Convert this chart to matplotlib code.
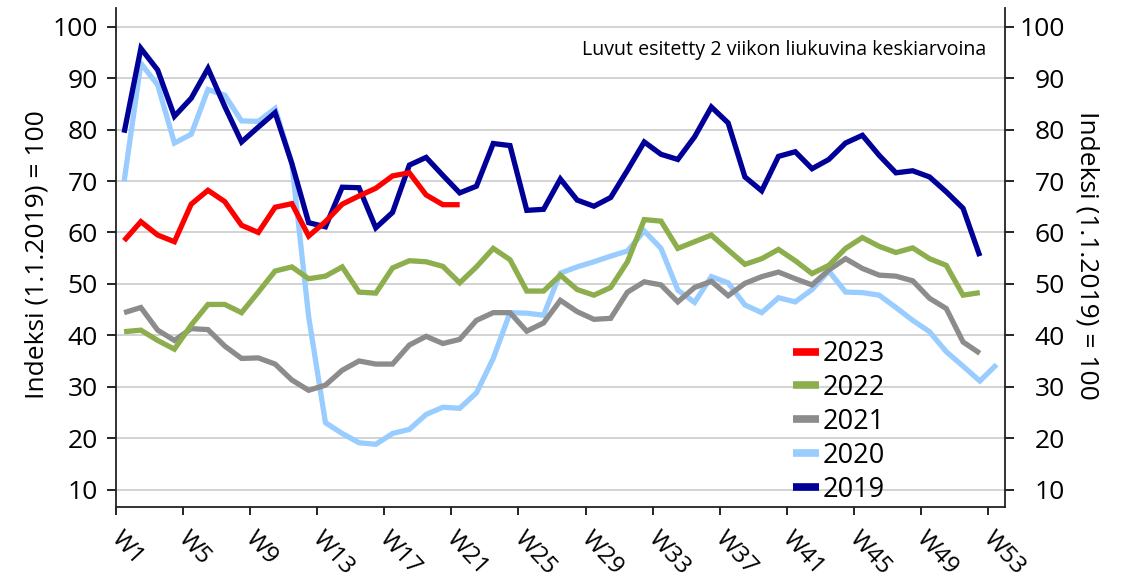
import numpy as np
import matplotlib
matplotlib.use("Agg")
import matplotlib.pyplot as plt
import matplotlib.transforms as mtransforms

plt.rcParams['font.family'] = ['Open Sans', 'DejaVu Sans']

weeks = np.arange(1, 54)

y2019 = [79.4, 95.8, 91.6, 82.6, 86.1, 91.9, 84.5, 77.6, 80.5, 83.3, 73.4, 61.9, 61.1,
         68.8, 68.7, 60.9, 63.9, 73.1, 74.6, 71.1, 67.7, 69.0, 77.3, 76.9, 64.3, 64.5,
         70.4, 66.3, 65.1, 66.8, 72.1, 77.6, 75.2, 74.2, 78.6, 84.4, 81.3, 70.8, 68.1,
         74.8, 75.7, 72.4, 74.2, 77.4, 78.9, 75.0, 71.6, 72.0, 70.8, 67.9, 64.7, 55.4]
y2020 = [69.9, 92.9, 88.7, 77.4, 79.1, 87.8, 86.7, 81.7, 81.6, 84.1, 73.4, 43.6, 23.0,
         20.9, 19.1, 18.8, 20.9, 21.7, 24.6, 26.0, 25.8, 28.8, 35.5, 44.4, 44.3, 43.9,
         52.1, 53.3, 54.3, 55.4, 56.4, 60.3, 56.9, 48.8, 46.4, 51.4, 50.2, 45.9, 44.4,
         47.3, 46.5, 48.9, 52.5, 48.4, 48.3, 47.8, 45.4, 42.9, 40.7, 36.8, 34.0, 31.1, 34.3]
y2021 = [44.4, 45.4, 41.0, 39.0, 41.3, 41.1, 37.9, 35.5, 35.6, 34.4, 31.3, 29.3, 30.3,
         33.2, 35.0, 34.4, 34.4, 38.1, 39.8, 38.4, 39.2, 42.9, 44.4, 44.4, 40.8, 42.4,
         46.8, 44.6, 43.1, 43.3, 48.4, 50.4, 49.8, 46.5, 49.3, 50.5, 47.7, 50.1, 51.4,
         52.3, 51.0, 49.8, 52.7, 54.9, 53.0, 51.7, 51.5, 50.6, 47.2, 45.2, 38.7, 36.5]
y2022 = [40.7, 41.0, 39.0, 37.3, 42.0, 46.0, 46.0, 44.4, 48.4, 52.5, 53.3, 51.0, 51.5,
         53.3, 48.4, 48.2, 53.1, 54.5, 54.3, 53.4, 50.2, 53.3, 56.9, 54.7, 48.6, 48.6,
         51.7, 48.9, 47.8, 49.3, 54.3, 62.5, 62.2, 56.9, 58.2, 59.5, 56.6, 53.8, 54.9,
         56.7, 54.5, 52.0, 53.6, 56.9, 59.0, 57.3, 56.1, 57.0, 54.9, 53.6, 47.8, 48.3]
y2023 = [58.4, 62.1, 59.5, 58.2, 65.5, 68.2, 66.0, 61.4, 60.0, 64.9, 65.6, 59.3, 62.1,
         65.5, 67.1, 68.6, 71.0, 71.6, 67.3, 65.4, 65.4]

series_labels = ['2023', '2022', '2021', '2020', '2019']
series_values = [y2023, y2022, y2021, y2020, y2019]
series_colors = ['#FF0000', '#8CAE4C', '#8C8C8C', '#99CCFF', '#000099']
series_z = [6, 5, 4, 2, 3]

xtick_labels = ['W1', 'W5', 'W9', 'W13', 'W17', 'W21', 'W25', 'W29', 'W33',
                'W37', 'W41', 'W45', 'W49', 'W53']
xtick_weeks = [1, 5, 9, 13, 17, 21, 25, 29, 33, 37, 41, 45, 49, 53]
yticks = [10, 20, 30, 40, 50, 60, 70, 80, 90, 100]

W, H = 1126, 579
fig = plt.figure(figsize=(W / 100, H / 100), dpi=100)
ax = fig.add_axes([115.7 / W, 1 - 507 / H, (1005 - 115.7) / W, (507 - 8.3) / H])

for lab, vals, col, z in zip(series_labels, series_values, series_colors, series_z):
    ax.plot(weeks[:len(vals)], vals, color=col, lw=3.8, label=lab, zorder=z,
            solid_joinstyle='miter', solid_capstyle='butt')

ax.set_xlim(0.5, 53.5)
ax.set_ylim(6.6, 103.6)
ax.set_yticks(yticks)
ax.yaxis.grid(True, color='#D3D3D3', lw=1.4)
ax.set_axisbelow(True)

ax.set_xticks([w - 0.5 for w in xtick_weeks])
ax.set_xticklabels(xtick_labels, rotation=-47, ha='left', va='top',
                   rotation_mode='anchor')
ax.tick_params(axis='x', length=6, width=1.2, pad=8, labelsize=17.5, direction='out')
ax.tick_params(axis='y', length=6.5, width=1.2, pad=6.5, labelsize=19, direction='out',
               left=True, right=True, labelleft=True, labelright=True)

for s in ['left', 'right', 'bottom']:
    ax.spines[s].set_linewidth(1.3)
    ax.spines[s].set_color('#222222')
ax.spines['top'].set_visible(False)

# x labels shifted slightly right
xoff = mtransforms.ScaledTranslation(8 / 100, 0, fig.dpi_scale_trans)
for tick in ax.xaxis.get_major_ticks():
    tick.label1.set_transform(tick.label1.get_transform() + xoff)

# right tick labels right-aligned
roff = mtransforms.ScaledTranslation(42 / 100, 0, fig.dpi_scale_trans)
for tick in ax.yaxis.get_major_ticks():
    tick.label2.set_horizontalalignment('right')
    tick.label2.set_transform(tick.label2.get_transform() + roff)

fig.text(37 / W, 1 - 255 / H, 'Indeksi (1.1.2019) = 100', rotation=90,
         ha='center', va='center', fontsize=19)
fig.text(1087 / W, 1 - 255 / H, 'Indeksi (1.1.2019) = 100', rotation=270,
         ha='center', va='center', fontsize=19)

ax.text(986.7 / W, 1 - 50 / H, 'Luvut esitetty 2 viikon liukuvina keskiarvoina',
        transform=fig.transFigure, ha='right', va='center', fontsize=14.1)

leg = ax.legend(loc='upper left', bbox_to_anchor=((793 - 115.7) / (1005 - 115.7),
                (507 - 340) / (507 - 8.3)),
                frameon=False, fontsize=19.5, handlelength=0.96, handletextpad=0.15,
                labelspacing=0.22, borderaxespad=0, borderpad=0)
for line in leg.get_lines():
    line.set_linewidth(5.5)
    line.set_solid_capstyle('butt')

fig.savefig('out.png', dpi=100)
